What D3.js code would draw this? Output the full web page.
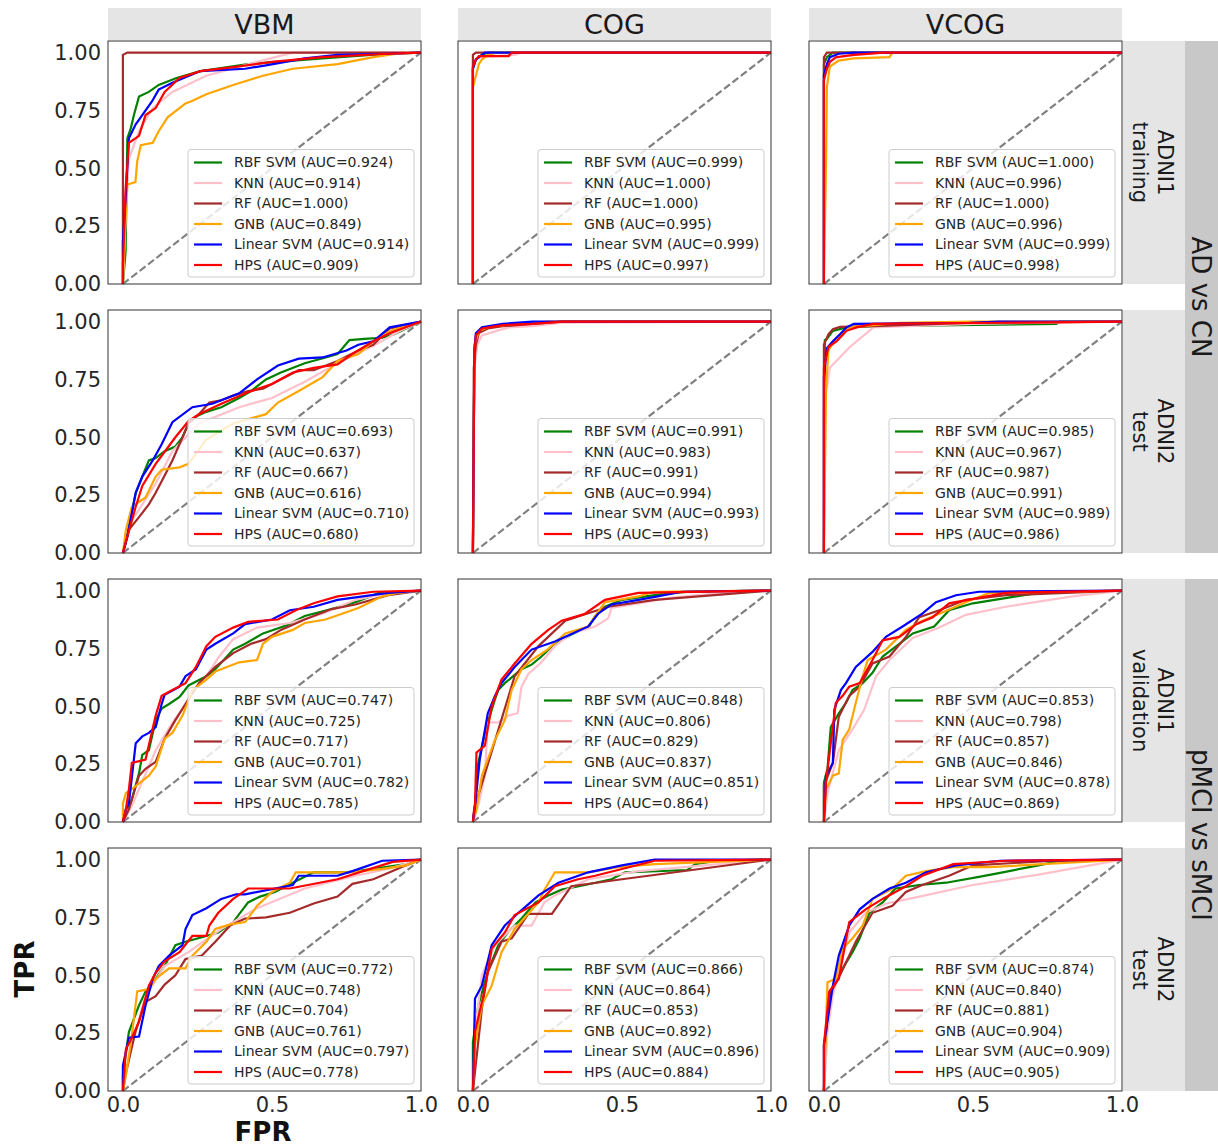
<!DOCTYPE html>
<html>
<head>
<meta charset="utf-8">
<script src="https://cdn.jsdelivr.net/npm/d3@7"></script>
<style>
  body { margin: 0; background: #fff; }
  text { font-family: "DejaVu Sans", sans-serif; fill: #262626; }
</style>
</head>
<body>
<svg id="fig" width="1218" height="1148"></svg>
<script>
// legend order = drawing order
const methods = ["RBF SVM", "KNN", "RF", "GNB", "Linear SVM", "HPS"];
const colors = ["green", "pink", "brown", "orange", "blue", "red"];
const features = ["VBM", "COG", "VCOG"];
const datasets = [["ADNI1", "training"], ["ADNI2", "test"], ["ADNI1", "validation"], ["ADNI2", "test"]];
const tasks = ["AD vs CN", "pMCI vs sMCI"];
const yTicks = [0, 0.25, 0.5, 0.75, 1];
const xTicks = [0, 0.5, 1];

// AUC per row, per method
const auc_vbm  = [[0.924, 0.914, 1.000, 0.849, 0.914, 0.909], [0.693, 0.637, 0.667, 0.616, 0.710, 0.680],
                  [0.747, 0.725, 0.717, 0.701, 0.782, 0.785], [0.772, 0.748, 0.704, 0.761, 0.797, 0.778]];
const auc_cog  = [[0.999, 1.000, 1.000, 0.995, 0.999, 0.997], [0.991, 0.983, 0.991, 0.994, 0.993, 0.993],
                  [0.848, 0.806, 0.829, 0.837, 0.851, 0.864], [0.866, 0.864, 0.853, 0.892, 0.896, 0.884]];
const auc_vcog = [[1.000, 0.996, 1.000, 0.996, 0.999, 0.998], [0.985, 0.967, 0.987, 0.991, 0.989, 0.986],
                  [0.853, 0.798, 0.857, 0.846, 0.878, 0.869], [0.874, 0.840, 0.881, 0.904, 0.909, 0.905]];

// ROC points [fpr, tpr]
const vbm_adcn_adni1 = [
  [[0,0],[0.009,0.14],[0.015,0.63],[0.026,0.67],[0.037,0.73],[0.054,0.81],[0.087,0.83],[0.12,0.86],[0.18,0.89],[0.26,0.92],[0.42,0.95],[0.67,0.975],[0.89,0.995],[1,1]],
  [[0,0],[0.01,0.3],[0.02,0.54],[0.054,0.66],[0.1,0.76],[0.166,0.83],[0.28,0.9],[0.45,0.96],[0.57,1],[1,1]],
  [[0,0],[0,0.99],[0.015,1],[1,1]],
  [[0,0],[0.005,0.2],[0.015,0.43],[0.042,0.44],[0.048,0.53],[0.06,0.6],[0.1,0.61],[0.12,0.66],[0.15,0.72],[0.21,0.78],[0.23,0.79],[0.28,0.82],[0.37,0.86],[0.47,0.9],[0.57,0.93],[0.72,0.95],[0.84,0.98],[0.92,0.995],[1,1]],
  [[0,0],[0,0.18],[0.011,0.41],[0.02,0.63],[0.043,0.69],[0.065,0.73],[0.098,0.79],[0.12,0.84],[0.166,0.87],[0.26,0.92],[0.41,0.93],[0.48,0.945],[0.61,0.975],[0.72,0.99],[0.89,0.995],[1,1]],
  [[0,0],[0,0.08],[0.009,0.41],[0.02,0.61],[0.054,0.64],[0.076,0.73],[0.11,0.76],[0.14,0.83],[0.19,0.89],[0.26,0.92],[0.39,0.94],[0.5,0.96],[0.67,0.98],[0.89,0.995],[1,1]]
];
const cog_adcn_adni1 = [
  [[0,0],[0,0.93],[0.01,0.97],[0.03,0.99],[0.05,1],[1,1]],
  [[0,0],[0,0.96],[0.02,0.98],[0.14,0.99],[0.16,1],[1,1]],
  [[0,0],[0,0.99],[0.01,1],[1,1]],
  [[0,0],[0,0.85],[0.01,0.9],[0.02,0.95],[0.03,0.97],[0.05,0.99],[0.08,1],[1,1]],
  [[0,0],[0,0.93],[0.01,0.97],[0.04,1],[1,1]],
  [[0,0],[0,0.94],[0.01,0.97],[0.02,0.985],[0.12,0.985],[0.13,1],[1,1]]
];
const vcog_adcn_adni1 = [
  [[0,0],[0,0.95],[0.01,0.98],[0.03,1],[1,1]],
  [[0,0],[0,0.9],[0.02,0.96],[0.05,0.98],[0.1,0.99],[0.2,1],[1,1]],
  [[0,0],[0,0.98],[0.01,1],[1,1]],
  [[0,0],[0.008,0.6],[0.01,0.85],[0.02,0.94],[0.05,0.965],[0.1,0.975],[0.22,0.98],[0.23,1],[1,1]],
  [[0,0],[0,0.9],[0.01,0.95],[0.02,0.98],[0.05,0.995],[0.1,1],[1,1]],
  [[0,0],[0,0.88],[0.01,0.93],[0.02,0.96],[0.04,0.98],[0.1,0.99],[0.2,1],[1,1]]
];

const vbm_adcn_adni2 = [
  [[0,0],[0.01,0.05],[0.043,0.26],[0.087,0.4],[0.11,0.41],[0.14,0.44],[0.176,0.46],[0.2,0.5],[0.22,0.56],[0.245,0.59],[0.28,0.61],[0.33,0.63],[0.39,0.67],[0.43,0.7],[0.48,0.75],[0.53,0.78],[0.61,0.82],[0.68,0.845],[0.72,0.86],[0.76,0.92],[0.81,0.925],[0.87,0.93],[0.91,0.945],[1,1]],
  [[0,0],[0.03,0.14],[0.11,0.3],[0.166,0.44],[0.255,0.56],[0.39,0.63],[0.5,0.67],[0.61,0.74],[0.72,0.82],[0.84,0.895],[0.93,0.96],[1,1]],
  [[0,0],[0.02,0.1],[0.054,0.155],[0.087,0.21],[0.11,0.26],[0.13,0.31],[0.166,0.4],[0.2,0.5],[0.22,0.56],[0.255,0.6],[0.29,0.65],[0.33,0.66],[0.37,0.68],[0.42,0.7],[0.47,0.71],[0.56,0.77],[0.59,0.79],[0.64,0.79],[0.72,0.83],[0.79,0.875],[0.84,0.9],[0.895,0.97],[1,1]],
  [[0,0],[0.01,0.1],[0.03,0.2],[0.076,0.24],[0.11,0.33],[0.13,0.36],[0.19,0.37],[0.22,0.385],[0.28,0.49],[0.37,0.56],[0.48,0.6],[0.52,0.65],[0.59,0.7],[0.67,0.76],[0.72,0.83],[0.79,0.86],[0.84,0.915],[0.9,0.96],[1,1]],
  [[0,0],[0.015,0.07],[0.043,0.26],[0.065,0.33],[0.1,0.4],[0.13,0.47],[0.166,0.565],[0.233,0.63],[0.3,0.645],[0.33,0.66],[0.39,0.69],[0.45,0.75],[0.52,0.81],[0.59,0.84],[0.67,0.845],[0.75,0.875],[0.79,0.9],[0.84,0.915],[0.895,0.975],[1,1]],
  [[0,0],[0.01,0.05],[0.043,0.2],[0.065,0.29],[0.11,0.385],[0.176,0.5],[0.22,0.57],[0.255,0.6],[0.33,0.645],[0.42,0.695],[0.5,0.73],[0.57,0.78],[0.64,0.8],[0.72,0.815],[0.77,0.86],[0.84,0.915],[0.895,0.95],[1,1]]
];
const cog_adcn_adni2 = [
  [[0,0],[0.005,0.85],[0.01,0.93],[0.02,0.96],[0.05,0.975],[0.1,0.985],[0.25,0.995],[0.3,1],[1,1]],
  [[0,0],[0.005,0.8],[0.015,0.9],[0.03,0.94],[0.08,0.96],[0.12,0.975],[0.2,0.98],[0.3,0.995],[1,1]],
  [[0,0],[0.003,0.8],[0.01,0.9],[0.02,0.95],[0.05,0.97],[0.1,0.98],[0.2,0.99],[0.3,1],[1,1]],
  [[0,0],[0.005,0.9],[0.02,0.96],[0.06,0.98],[0.15,0.99],[0.25,1],[1,1]],
  [[0,0],[0.005,0.88],[0.01,0.95],[0.03,0.975],[0.1,0.99],[0.2,1],[1,1]],
  [[0,0],[0.005,0.87],[0.01,0.94],[0.03,0.97],[0.1,0.985],[0.2,0.99],[0.3,1],[1,1]]
];
const vcog_adcn_adni2 = [
  [[0,0],[0.003,0.92],[0.01,0.925],[0.03,0.96],[0.076,0.975],[0.166,0.98],[0.78,0.99],[0.79,1],[1,1]],
  [[0,0],[0,0.63],[0.02,0.8],[0.087,0.89],[0.166,0.975],[0.28,0.98],[0.5,0.99],[1,1]],
  [[0,0],[0,0.9],[0.015,0.945],[0.03,0.967],[0.054,0.977],[0.166,0.98],[0.5,0.995],[1,1]],
  [[0,0],[0.007,0.7],[0.015,0.875],[0.043,0.93],[0.087,0.975],[0.255,0.995],[0.49,1],[1,1]],
  [[0,0],[0,0.76],[0.01,0.885],[0.03,0.915],[0.054,0.945],[0.076,0.975],[0.1,0.99],[0.49,0.995],[0.585,1],[1,1]],
  [[0,0],[0,0.8],[0.015,0.89],[0.043,0.915],[0.065,0.945],[0.076,0.96],[0.11,0.975],[0.166,0.99],[0.58,0.995],[1,1]]
];

const vbm_mci_adni1 = [
  [[0,0],[0.01,0.055],[0.026,0.08],[0.054,0.21],[0.065,0.29],[0.087,0.31],[0.11,0.44],[0.13,0.49],[0.155,0.51],[0.19,0.54],[0.22,0.59],[0.28,0.63],[0.31,0.66],[0.37,0.745],[0.41,0.77],[0.47,0.815],[0.55,0.85],[0.61,0.89],[0.7,0.92],[0.78,0.95],[0.86,0.99],[1,1]],
  [[0,0],[0.03,0.07],[0.11,0.31],[0.166,0.43],[0.2,0.49],[0.233,0.56],[0.28,0.63],[0.32,0.71],[0.37,0.79],[0.45,0.84],[0.56,0.86],[0.67,0.9],[0.78,0.96],[0.89,0.99],[1,1]],
  [[0,0],[0.02,0.055],[0.054,0.2],[0.076,0.23],[0.11,0.26],[0.14,0.36],[0.176,0.44],[0.21,0.51],[0.255,0.6],[0.31,0.67],[0.37,0.73],[0.43,0.77],[0.48,0.79],[0.53,0.83],[0.61,0.875],[0.7,0.92],[0.78,0.94],[0.89,0.98],[1,1]],
  [[0,0],[0,0.08],[0.01,0.125],[0.043,0.155],[0.087,0.2],[0.11,0.24],[0.14,0.36],[0.166,0.385],[0.2,0.46],[0.233,0.57],[0.28,0.615],[0.31,0.65],[0.39,0.69],[0.45,0.7],[0.47,0.77],[0.5,0.8],[0.57,0.83],[0.61,0.86],[0.68,0.875],[0.79,0.925],[0.87,0.975],[0.92,0.99],[1,1]],
  [[0,0],[0.01,0.055],[0.02,0.08],[0.043,0.34],[0.065,0.37],[0.087,0.385],[0.11,0.41],[0.13,0.51],[0.14,0.55],[0.19,0.585],[0.21,0.63],[0.245,0.66],[0.28,0.745],[0.31,0.77],[0.37,0.815],[0.41,0.855],[0.5,0.875],[0.56,0.915],[0.64,0.93],[0.72,0.96],[0.89,0.99],[1,1]],
  [[0,0],[0.01,0.055],[0.02,0.14],[0.03,0.255],[0.076,0.27],[0.11,0.46],[0.13,0.545],[0.166,0.57],[0.21,0.6],[0.245,0.67],[0.28,0.76],[0.31,0.8],[0.37,0.84],[0.42,0.865],[0.52,0.875],[0.58,0.915],[0.64,0.945],[0.72,0.975],[0.84,0.995],[1,1]]
];
const cog_mci_adni1 = [
  [[0,0],[0.007,0.07],[0.018,0.255],[0.04,0.385],[0.05,0.43],[0.074,0.53],[0.085,0.57],[0.107,0.6],[0.163,0.66],[0.197,0.68],[0.23,0.715],[0.275,0.77],[0.33,0.81],[0.39,0.845],[0.41,0.89],[0.443,0.93],[0.5,0.96],[0.61,0.98],[0.72,0.995],[1,1]],
  [[0,0],[0.018,0.07],[0.04,0.2],[0.05,0.43],[0.085,0.43],[0.12,0.46],[0.15,0.47],[0.163,0.585],[0.186,0.64],[0.23,0.69],[0.275,0.76],[0.33,0.815],[0.41,0.845],[0.454,0.88],[0.465,0.925],[0.555,0.945],[0.667,0.97],[0.834,0.99],[1,1]],
  [[0,0],[0.004,0.055],[0.14,0.63],[0.22,0.76],[0.31,0.87],[0.454,0.93],[0.61,0.96],[1,1]],
  [[0,0],[0.012,0.055],[0.03,0.2],[0.074,0.355],[0.107,0.44],[0.13,0.57],[0.163,0.66],[0.197,0.7],[0.25,0.745],[0.31,0.815],[0.387,0.845],[0.41,0.89],[0.443,0.95],[0.555,0.975],[0.61,0.995],[1,1]],
  [[0,0],[0.007,0.07],[0.023,0.27],[0.05,0.47],[0.074,0.545],[0.096,0.6],[0.14,0.67],[0.197,0.745],[0.275,0.78],[0.387,0.845],[0.42,0.9],[0.465,0.94],[0.555,0.96],[0.62,0.975],[0.7,0.995],[1,1]],
  [[0,0],[0.007,0.08],[0.012,0.3],[0.04,0.33],[0.063,0.5],[0.096,0.615],[0.14,0.685],[0.197,0.77],[0.253,0.83],[0.298,0.87],[0.376,0.9],[0.443,0.96],[0.555,0.99],[1,1]]
];
const vcog_mci_adni1 = [
  [[0,0],[0,0.17],[0.012,0.23],[0.023,0.41],[0.05,0.47],[0.074,0.515],[0.096,0.57],[0.13,0.6],[0.163,0.645],[0.197,0.715],[0.253,0.77],[0.298,0.815],[0.37,0.845],[0.42,0.915],[0.5,0.945],[0.645,0.975],[0.72,0.99],[1,1]],
  [[0,0],[0.012,0.125],[0.05,0.31],[0.096,0.4],[0.135,0.485],[0.175,0.63],[0.22,0.7],[0.298,0.795],[0.387,0.84],[0.476,0.895],[0.61,0.93],[0.834,0.975],[1,1]],
  [[0,0],[0,0.155],[0.03,0.255],[0.05,0.455],[0.085,0.545],[0.12,0.585],[0.163,0.685],[0.22,0.715],[0.275,0.8],[0.32,0.885],[0.387,0.915],[0.476,0.96],[0.61,0.98],[1,1]],
  [[0,0],[0.007,0.14],[0.03,0.2],[0.05,0.21],[0.063,0.355],[0.085,0.4],[0.107,0.515],[0.13,0.63],[0.147,0.7],[0.208,0.745],[0.275,0.83],[0.33,0.87],[0.387,0.9],[0.476,0.95],[0.555,0.99],[1,1]],
  [[0,0],[0.007,0.2],[0.03,0.255],[0.035,0.485],[0.057,0.57],[0.074,0.6],[0.107,0.67],[0.163,0.735],[0.208,0.8],[0.264,0.845],[0.33,0.9],[0.376,0.95],[0.443,0.98],[0.52,0.995],[1,1]],
  [[0,0],[0.007,0.17],[0.023,0.34],[0.04,0.515],[0.063,0.545],[0.085,0.585],[0.12,0.6],[0.163,0.7],[0.197,0.785],[0.253,0.8],[0.31,0.855],[0.365,0.885],[0.42,0.945],[0.61,0.99],[1,1]]
];

const vbm_mci_adni2 = [
  [[0,0],[0,0.07],[0.02,0.255],[0.054,0.37],[0.076,0.43],[0.11,0.485],[0.14,0.54],[0.176,0.63],[0.21,0.645],[0.28,0.67],[0.32,0.685],[0.37,0.73],[0.42,0.815],[0.46,0.84],[0.51,0.86],[0.57,0.9],[0.64,0.945],[0.75,0.945],[0.84,0.96],[0.95,0.98],[1,1]],
  [[0,0],[0.03,0.2],[0.076,0.41],[0.14,0.54],[0.22,0.6],[0.33,0.7],[0.45,0.79],[0.61,0.875],[0.78,0.93],[0.89,0.96],[1,1]],
  [[0,0],[0.01,0.08],[0.043,0.26],[0.076,0.385],[0.11,0.41],[0.14,0.46],[0.176,0.5],[0.21,0.57],[0.265,0.585],[0.31,0.645],[0.36,0.715],[0.41,0.745],[0.48,0.75],[0.56,0.77],[0.64,0.81],[0.72,0.84],[0.77,0.895],[0.84,0.915],[0.895,0.945],[0.95,0.975],[1,1]],
  [[0,0],[0.01,0.07],[0.026,0.2],[0.048,0.43],[0.087,0.44],[0.11,0.485],[0.155,0.53],[0.21,0.53],[0.233,0.585],[0.28,0.645],[0.31,0.7],[0.36,0.72],[0.41,0.73],[0.45,0.8],[0.5,0.86],[0.56,0.9],[0.58,0.945],[0.76,0.945],[0.87,0.96],[0.95,0.975],[1,1]],
  [[0,0],[0,0.11],[0.02,0.23],[0.054,0.235],[0.076,0.37],[0.1,0.485],[0.12,0.54],[0.155,0.585],[0.2,0.63],[0.21,0.7],[0.233,0.76],[0.28,0.79],[0.33,0.83],[0.38,0.85],[0.41,0.85],[0.57,0.89],[0.59,0.93],[0.72,0.93],[0.77,0.95],[0.87,0.995],[1,1]],
  [[0,0],[0.01,0.18],[0.03,0.23],[0.054,0.3],[0.087,0.455],[0.11,0.51],[0.14,0.56],[0.19,0.6],[0.233,0.67],[0.28,0.67],[0.29,0.715],[0.32,0.77],[0.37,0.83],[0.42,0.875],[0.56,0.875],[0.72,0.915],[0.83,0.96],[0.905,0.99],[1,1]]
];
const cog_mci_adni2 = [
  [[0,0],[0,0.21],[0.018,0.37],[0.05,0.515],[0.085,0.63],[0.12,0.69],[0.163,0.745],[0.21,0.815],[0.253,0.845],[0.298,0.87],[0.376,0.89],[0.465,0.915],[0.51,0.945],[0.72,0.955],[0.745,0.98],[0.82,0.995],[1,1]],
  [[0,0],[0.007,0.255],[0.03,0.5],[0.074,0.63],[0.14,0.715],[0.197,0.715],[0.24,0.815],[0.275,0.845],[0.387,0.915],[0.555,0.95],[1,1]],
  [[0,0],[0.03,0.355],[0.05,0.515],[0.096,0.645],[0.13,0.66],[0.186,0.765],[0.265,0.765],[0.33,0.885],[0.5,0.915],[1,1]],
  [[0,0],[0.007,0.2],[0.03,0.37],[0.063,0.455],[0.096,0.6],[0.14,0.7],[0.22,0.815],[0.24,0.87],[0.275,0.945],[0.387,0.945],[0.487,0.967],[0.61,0.98],[1,1]],
  [[0,0],[0.007,0.4],[0.03,0.455],[0.063,0.63],[0.107,0.715],[0.153,0.77],[0.22,0.845],[0.287,0.9],[0.387,0.945],[0.5,0.975],[0.61,1],[1,1]],
  [[0,0],[0.007,0.255],[0.04,0.44],[0.063,0.615],[0.107,0.685],[0.14,0.76],[0.22,0.815],[0.275,0.885],[0.353,0.915],[0.41,0.93],[0.61,0.995],[1,1]]
];
const vcog_mci_adni2 = [
  [[0,0],[0.004,0.14],[0.018,0.4],[0.04,0.47],[0.07,0.545],[0.096,0.6],[0.12,0.66],[0.153,0.77],[0.197,0.815],[0.24,0.875],[0.32,0.89],[0.41,0.9],[0.52,0.925],[0.6,0.945],[0.72,0.975],[0.79,0.995],[1,1]],
  [[0,0],[0.012,0.255],[0.03,0.415],[0.085,0.685],[0.14,0.77],[0.21,0.81],[0.32,0.84],[0.5,0.89],[0.72,0.935],[1,1]],
  [[0,0],[0.004,0.2],[0.018,0.415],[0.048,0.485],[0.074,0.555],[0.107,0.645],[0.163,0.77],[0.23,0.8],[0.275,0.86],[0.33,0.89],[0.42,0.93],[0.5,0.975],[0.77,0.995],[1,1]],
  [[0,0],[0.007,0.285],[0.012,0.47],[0.04,0.485],[0.063,0.615],[0.096,0.66],[0.13,0.715],[0.163,0.83],[0.23,0.875],[0.275,0.93],[0.343,0.95],[0.434,0.967],[0.555,0.967],[1,1]],
  [[0,0],[0,0.2],[0.03,0.455],[0.05,0.585],[0.085,0.715],[0.12,0.785],[0.163,0.83],[0.22,0.875],[0.275,0.9],[0.343,0.945],[0.443,0.975],[0.59,0.995],[1,1]],
  [[0,0],[0,0.2],[0.018,0.43],[0.05,0.485],[0.085,0.73],[0.14,0.785],[0.197,0.83],[0.275,0.885],[0.33,0.93],[0.434,0.98],[0.61,0.995],[1,1]]
];

const grid = [
  [vbm_adcn_adni1, cog_adcn_adni1, vcog_adcn_adni1],
  [vbm_adcn_adni2, cog_adcn_adni2, vcog_adcn_adni2],
  [vbm_mci_adni1, cog_mci_adni1, vcog_mci_adni1],
  [vbm_mci_adni2, cog_mci_adni2, vcog_mci_adni2]
];
const aucs = [auc_vbm, auc_cog, auc_vcog];

const svg = d3.select("#fig");
const colX = [108, 458, 809], rowY = [41, 310, 579, 848];
const pw = 313, ph = 243;

// column header strips
features.forEach((f, c) => {
  svg.append("rect").attr("x", colX[c]).attr("y", 8).attr("width", pw).attr("height", 32).attr("fill", "#e5e5e5");
  svg.append("text").attr("x", colX[c] + pw / 2).attr("y", 24).attr("dy", "0.36em")
    .attr("text-anchor", "middle").style("font-size", "27px").style("fill", "#1a1a1a").text(f);
});

// row strips
datasets.forEach((d, r) => {
  svg.append("rect").attr("x", 1123).attr("y", rowY[r]).attr("width", 62).attr("height", ph).attr("fill", "#e5e5e5");
  const t = svg.append("text")
    .attr("transform", "translate(1154," + (rowY[r] + ph / 2) + ") rotate(90)")
    .attr("text-anchor", "middle").style("font-size", "21px").style("fill", "#1a1a1a");
  t.append("tspan").attr("x", 0).attr("y", -4).text(d[0]);
  t.append("tspan").attr("x", 0).attr("y", 21).text(d[1]);
});
tasks.forEach((t, i) => {
  const top = rowY[i * 2], bot = rowY[i * 2 + 1] + ph;
  svg.append("rect").attr("x", 1185).attr("y", top).attr("width", 33).attr("height", bot - top).attr("fill", "#c8c8c8");
  svg.append("text")
    .attr("transform", "translate(1201," + ((top + bot) / 2) + ") rotate(90)")
    .attr("text-anchor", "middle").attr("dy", "0.36em").style("font-size", "26px").style("fill", "#1a1a1a").text(t);
});

const line = (x, y) => d3.line().x(d => x(d[0])).y(d => y(d[1]));

grid.forEach((row, r) => {
  row.forEach((series, c) => {
    const x = d3.scaleLinear().domain([-0.05, 1]).range([colX[c], colX[c] + pw]);
    const y = d3.scaleLinear().domain([0, 1.05]).range([rowY[r] + ph, rowY[r]]);
    const g = svg.append("g");

    g.append("line")
      .attr("x1", x(0)).attr("y1", y(0)).attr("x2", x(1)).attr("y2", y(1))
      .attr("stroke", "gray").attr("stroke-width", 2.2).attr("stroke-dasharray", "7.4,3.2");

    series.forEach((pts, i) => {
      g.append("path").datum(pts)
        .attr("d", line(x, y))
        .attr("fill", "none").attr("stroke", colors[i]).attr("stroke-width", 2.2);
    });

    // legend
    const right = colX[c] + pw, top = rowY[r], bottom = rowY[r] + ph;
    const lg = g.append("g");
    lg.append("rect")
      .attr("x", right - 233).attr("y", top + 108.5)
      .attr("width", 226).attr("height", bottom - 7 - (top + 108.5))
      .attr("rx", 3).attr("fill", "white").attr("fill-opacity", 0.8)
      .attr("stroke", "#cccccc").attr("stroke-width", 1);
    methods.forEach((m, i) => {
      const ly = top + 121.5 + i * 20.5;
      lg.append("line").attr("x1", right - 227).attr("x2", right - 199).attr("y1", ly).attr("y2", ly)
        .attr("stroke", colors[i]).attr("stroke-width", 2.2);
      lg.append("text").attr("x", right - 187).attr("y", ly).attr("dy", "0.35em")
        .style("font-size", "14px").text(m + " (AUC=" + aucs[c][r][i].toFixed(3) + ")");
    });

    g.append("rect").attr("x", colX[c]).attr("y", rowY[r]).attr("width", pw).attr("height", ph)
      .attr("fill", "none").attr("stroke", "#333").attr("stroke-width", 1);

    if (c === 0) {
      const ay = g.append("g").attr("transform", "translate(" + colX[c] + ",0)")
        .call(d3.axisLeft(y).tickValues(yTicks).tickFormat(d3.format(".2f")).tickSize(0).tickPadding(7));
      ay.select(".domain").remove();
      ay.selectAll("text").style("font-size", "21px").style("fill", "#262626").attr("font-family", null);
    }
    if (r === 3) {
      const ax = g.append("g").attr("transform", "translate(0," + (rowY[r] + ph) + ")")
        .call(d3.axisBottom(x).tickValues(xTicks).tickFormat(d3.format(".1f")).tickSize(0).tickPadding(6));
      ax.select(".domain").remove();
      ax.selectAll("text").style("font-size", "21px").style("fill", "#262626").attr("font-family", null);
    }
  });
});

// axis titles
svg.append("text").attr("transform", "translate(25,969) rotate(-90)").attr("text-anchor", "middle").attr("dy", "0.36em")
  .style("font-size", "26px").style("font-weight", "bold").style("fill", "#111").text("TPR");
svg.append("text").attr("x", 263).attr("y", 1141).attr("text-anchor", "middle")
  .style("font-size", "26px").style("font-weight", "bold").style("fill", "#111").text("FPR");
</script>
</body>
</html>
